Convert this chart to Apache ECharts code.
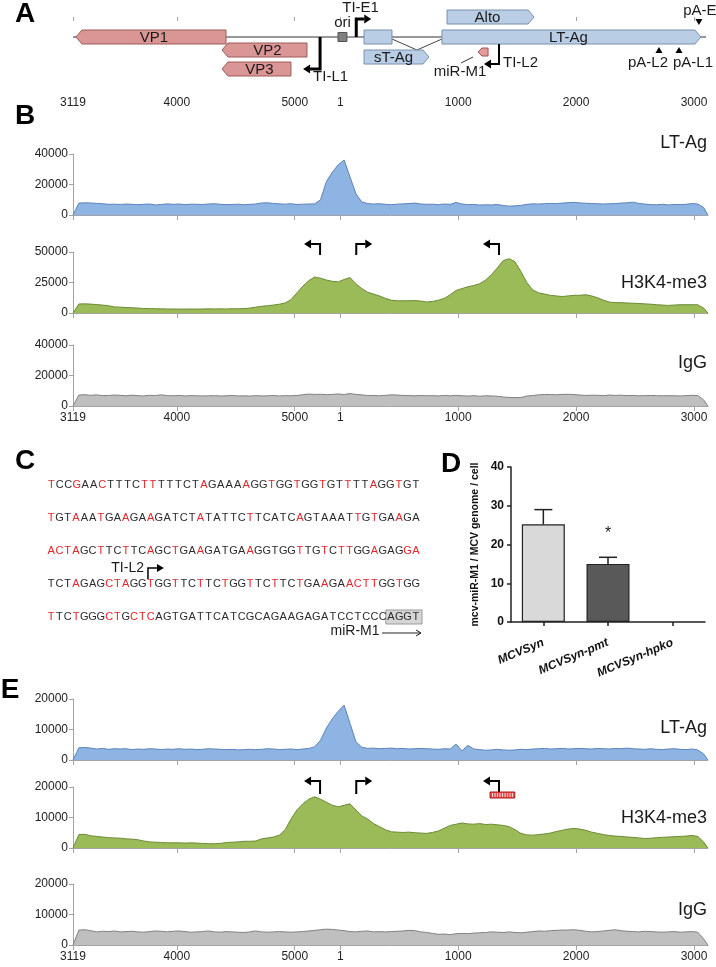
<!DOCTYPE html>
<html><head><meta charset="utf-8">
<script src="https://cdn.jsdelivr.net/npm/echarts@6.0.0/dist/echarts.min.js"></script>
<style>html,body{margin:0;padding:0;background:#fff}#c{width:716px;height:967px}</style>
</head><body><div id="c"></div>
<script>
// ================= DATA =================
const genomeLength = 5387;          // MCV genome (bp)
const axisStart = 3119;             // linearised map starts here
const tickLabels = [3119, 4000, 5000, 1, 1000, 2000, 3000];

// Panel A genome map (genomic bp)
const geneNames  = ['VP1', 'VP2', 'VP3', 'Alto', 'sT-Ag', 'LT-Ag'];
const geneStart  = [3144, 4383, 4383, 905, 201, 862];
const geneEnd    = [4417, 5104, 4968, 1643, 752, 3059];
const geneStrand = ['-', '-', '-', '+', '+', '+'];
const geneRow    = [1, 1.65, 2.6, 0, 2, 1];
const ltExon1 = [201, 438];
const oriPos = 18;
const promoterNames  = ['TI-L1', 'TI-E1', 'TI-L2'];
const promoterPos    = [5215, 135, 1346];
const promoterStrand = ['-', '+', '-'];
const polyANames = ['pA-L2', 'pA-L1', 'pA-E'];
const polyAPos   = [2703, 2873, 3042];
const mirName = 'miR-M1';
const mirRegion = [1168, 1253];
const hpkoRegion = [1270, 1480];

// ChIP-seq coverage, sampled along the linearised genome (genomic bp)
const positions = [
3119,3169,3219,3269,3319,3369,3419,3469,3519,3569,
3619,3669,3719,3769,3819,3869,3919,3969,4019,4069,
4119,4169,4219,4269,4319,4369,4419,4469,4519,4569,
4619,4669,4719,4769,4819,4869,4919,4969,5019,5069,
5119,5169,5219,5269,5319,5369,32,82,132,182,
232,282,332,382,432,482,532,582,632,682,
732,782,832,882,932,982,1032,1082,1132,1182,
1232,1282,1332,1382,1432,1482,1532,1582,1632,1682,
1732,1782,1832,1882,1932,1982,2032,2082,2132,2182,
2232,2282,2332,2382,2432,2482,2532,2582,2632,2682,
2732,2782,2832,2882,2932,2982,3032,3082,3118];

const bLTAg = [
0,7800,8000,7900,7600,7400,7000,7100,6900,7200,
7000,6800,7000,7200,6600,6900,7300,7000,7200,6800,
7100,7000,6900,7200,7400,7000,6800,6900,7100,6700,
7000,7200,7900,8000,7600,7300,7100,7400,6900,7100,
7200,7300,10000,22000,28000,33000,36000,25000,14000,8500,
7500,7200,7400,7000,6800,7100,7300,7500,7800,7200,
7000,7100,6800,7200,7000,8200,7200,6800,6900,6500,
6700,6600,6900,6200,5800,6000,6300,7000,7300,7200,
7400,7600,7500,7800,8100,8300,7900,7700,7500,7400,
7200,7400,7500,7800,8000,8400,7600,7200,6800,6700,
7000,6600,6900,6800,7000,7500,7200,5000,0];
const bH3K4 = [
0,7400,7500,7300,6900,6500,6000,5000,4800,4500,
4300,4000,3700,3600,3500,3400,3300,3300,3200,3200,
3300,3200,3300,3400,3300,3400,3300,3500,3400,3600,
4000,4800,5500,6000,6500,7200,8200,11000,16500,22000,
26500,29500,28500,27000,26000,25500,27500,29000,24000,20000,
17000,15500,14000,12000,10500,10000,10000,10000,10200,9800,
9000,9500,10500,12000,15000,18500,20000,21500,22500,24000,
27000,31500,37000,43000,44500,42000,34000,25000,19000,16500,
15500,14500,14000,13500,14000,14500,14500,15000,14000,12500,
10500,9000,8500,8500,8200,8000,7800,7500,7200,6800,
6500,6200,6500,6800,6800,6800,6700,4000,0];
const bIgG = [
0,7200,7400,7000,7300,6800,6900,7200,7000,6700,
7100,6800,6600,7000,6900,7300,6800,6700,6900,6600,
6800,6700,6600,6700,6800,6600,6700,6900,6600,6700,
6500,6800,6600,6700,6900,6600,6800,6700,6900,7400,
7800,7600,7700,7400,7600,7900,7500,8200,7600,7300,
6800,6900,6700,7000,7300,7200,6900,6800,6700,6900,
6700,6800,6600,6900,6700,7000,6700,6500,6800,6400,
6700,6600,6400,5900,5600,5500,5600,6500,6900,7300,
7600,7500,7400,7600,7700,7500,7200,6900,7100,7000,
6800,7200,6900,7100,6800,6900,6700,6800,6900,6800,
6700,6800,6700,6600,6800,7000,6900,4000,0];
const eLTAg = [
0,4000,4100,3900,3600,3800,3500,3700,3600,3700,
3400,3600,3500,3700,3600,3400,3600,3500,3700,3500,
3600,3400,3500,3700,3600,3500,3400,3500,3300,3400,
3500,3400,3500,3700,3600,3400,3500,3600,3400,3600,
3800,4300,6500,10500,13500,16000,18000,12000,6000,4200,
3800,3900,3700,3800,3900,3700,3800,3600,3700,3800,
3700,3600,3500,3700,3600,5200,3000,4800,3600,3400,
3200,3300,3500,3300,3200,3300,3500,3400,3600,3700,
3800,3600,3700,3800,3600,3700,3800,3700,3600,3800,
3700,3600,3800,3700,3900,3700,3600,3500,3700,3500,
3400,3600,3700,3500,3400,3600,3300,2000,0];
const eH3K4 = [
0,4400,4500,4000,3800,3600,3400,3300,3200,3000,
2900,2700,2300,2000,1900,1800,1700,1700,1700,1600,
1700,1600,1500,1400,1400,1500,1800,1900,2000,2200,
2200,2300,3000,3300,3600,4200,6000,9500,12500,14500,
16000,16800,16000,15000,14000,13500,14000,14500,12500,10500,
9500,8000,7000,6000,5300,5200,5100,5200,5000,4900,
4800,5100,5600,6500,7400,7800,8200,7900,7800,8000,
7700,7800,7600,7400,7000,6000,4800,4300,4200,4400,
4600,4900,5400,5800,6200,6400,6200,5800,5200,4800,
4400,4100,3900,3800,3600,3500,3300,3100,3200,3400,
3500,3600,3700,3800,3900,4100,3800,2000,0];
const eIgG = [
0,4900,5000,4700,4300,4500,4400,4600,4300,4400,
4500,4300,4200,4400,4600,4500,4300,4500,4600,4400,
4200,4300,4400,4600,4300,4200,4400,4300,4200,4100,
4300,4600,4300,4200,4300,4400,4300,4200,4300,4400,
4600,4800,5000,5200,5100,4900,4700,4400,4300,4500,
4600,4300,4400,4300,4400,4500,4600,4800,4700,4300,
4100,3800,3500,3600,3400,3700,3800,3700,3900,4000,
4100,4300,4200,4100,4300,4100,4000,4200,4400,4600,
4500,4700,4800,4900,4900,5000,4800,4500,4300,4400,
4600,4800,5000,4700,4500,4400,4300,4500,4400,4300,
4200,4300,4400,4200,4300,4400,4200,2000,0];

// Panel C sequence (red = highlighted bases)
const seqRows = [
 'TCCGAACTTTCTTTTTCTAGAAAAGGTGGTGGTGTTTTAGGTGT',
 'TGTAAATGAAGAAGATCTATATTCTTCATCAGTAAATTGTGAAGA',
 'ACTAGCTTCTTCAGCTGAAGATGAAGGTGGTTGTCTTGGAGAGGA',
 'TCTAGAGCTAGGTGGTTCTTCTGGTTCTTCTGAAGAACTTGGTGG',
 'TTCTGGGCTGCTCAGTGATTCATCGCAGAAGAGATCCTCCCAGGT'];
const seqRed = [
 [0,3,6,11,12,18,23,26,29,32,35,38,41],
 [0,3,6,9,12,18,24,30,37,39,42],
 [0,1,2,3,6,9,12,15,18,24,30,33,35,36,39,43,44],
 [3,7,8,9,12,15,18,21,24,27,30,33,36,37,38,39,42],
 [0,3,7,8,10,11,12]];
const seqTSS = {row: 3, index: 12, label: 'TI-L2'};
const seqMirBoxChars = 4;

// Panel D
const dCategories = ['MCVSyn', 'MCVSyn-pmt', 'MCVSyn-hpko'];
const dMeans = [25.2, 15.0, 0];
const dUpper = [29.0, 16.7, 0];
const dSignif = ['', '*', ''];
const dTitle = 'mcv-miR-M1 / MCV genome / cell';

// ================= HELPERS =================
const FONT = '"Liberation Sans", Arial, Helvetica, sans-serif';
function toLin(p) { return p >= axisStart ? p - axisStart : p + genomeLength - axisStart; }
function fromLin(u) { const p = Math.round(u) + axisStart; return p > genomeLength ? p - genomeLength : p; }
const tickLin = tickLabels.map(toLin);

const LEFT = 73, WIDTH = 635;
const tracks = [
 {vals: bLTAg, max: 40000, step: 20000, top: 154, fill: '#8DB4E2', line: '#5B82BA', title: 'LT-Ag',    ty: 143, labels: false},
 {vals: bH3K4, max: 50000, step: 25000, top: 252, fill: '#9BBB59', line: '#6C8A34', title: 'H3K4-me3', ty: 283, labels: false, arrows: {b: 3, t: -8}},
 {vals: bIgG,  max: 40000, step: 20000, top: 345, fill: '#BFBFBF', line: '#808080', title: 'IgG',      ty: 363, labels: true},
 {vals: eLTAg, max: 20000, step: 10000, top: 699, fill: '#8DB4E2', line: '#5B82BA', title: 'LT-Ag',    ty: 728, labels: false},
 {vals: eH3K4, max: 20000, step: 10000, top: 787, fill: '#9BBB59', line: '#6C8A34', title: 'H3K4-me3', ty: 818, labels: false, arrows: {b: 7, t: -6}, hpko: true},
 {vals: eIgG,  max: 20000, step: 10000, top: 884, fill: '#BFBFBF', line: '#808080', title: 'IgG',      ty: 910, labels: true}
];
const TRACK_H = 61;

const grids = [{left: LEFT, width: WIDTH, top: 17, height: 72}];
tracks.forEach(t => grids.push({left: LEFT, width: WIDTH, top: t.top, height: TRACK_H}));
grids.push({left: 511, width: 194, top: 467, height: 155});
const D_GRID = grids.length - 1;

const xAxes = [], yAxes = [], series = [];
const axisGray = '#a3a3a3';

// ---- Panel A axes ----
xAxes.push({gridIndex: 0, type: 'value', min: 0, max: genomeLength,
  axisLine: {show: false},
  axisTick: {show: true, customValues: tickLin, length: 4, lineStyle: {color: axisGray}},
  axisLabel: {show: true, customValues: tickLin, formatter: v => String(fromLin(v)), fontSize: 12, color: '#222', fontFamily: FONT, margin: 8},
  splitLine: {show: false}});
yAxes.push({gridIndex: 0, type: 'value', min: 0, max: 3.6, inverse: true, show: false});

// ---- Panel A features ----
const featureList = [{kind: 'backbone'}, {kind: 'exon1'}];
geneNames.forEach((n, i) => featureList.push({kind: 'gene', i}));
featureList.push({kind: 'ori'});
promoterNames.forEach((n, i) => featureList.push({kind: 'promoter', i}));
polyANames.forEach((n, i) => featureList.push({kind: 'polyA', i}));
featureList.push({kind: 'mir'});

const promoterLayoutA = {
  'TI-L1': {from: 1, to: 2.6, w: 3, len: 10, dx: -7, row: 3},
  'TI-E1': {from: 1, to: 0.1, w: 3, len: 8, dx: -14, row: -0.45},
  'TI-L2': {from: 1.35, to: 2.35, w: 2, len: 8, dx: 4, row: 2.3}
};
const polyALayoutA = {
  'pA-L2': {down: false, dx: -11, row: 2.3},
  'pA-L1': {down: false, dx: 14, row: 2.3},
  'pA-E':  {down: true, dx: 1, row: -0.3}
};

function txt(x, y, text, align, size, color, extra) {
  return Object.assign({type: 'text', x, y, style: {text, fill: color || '#1a1a1a', fontSize: size || 15, fontFamily: FONT, align: align || 'center', verticalAlign: 'middle'}}, extra || {});
}

function renderMap(params, api) {
  const f = featureList[api.value(2)];
  const P = (p, row) => api.coord([toLin(p), row]);
  const RY = row => api.coord([0, row])[1];
  const y1 = RY(1);
  if (f.kind === 'backbone') {
    const a = api.coord([0, 1]), b = api.coord([genomeLength, 1]);
    return {type: 'line', shape: {x1: a[0], y1: a[1], x2: b[0] - 2, y2: b[1]}, style: {stroke: '#333', lineWidth: 1}};
  }
  if (f.kind === 'exon1') {
    const a = P(ltExon1[0], 1), b = P(ltExon1[1], 1), c = P(geneStart[geneNames.indexOf('LT-Ag')], 1);
    return {type: 'group', children: [
      {type: 'polyline', shape: {points: [[b[0], y1 + 2], [(b[0] + c[0]) / 2, y1 + 13], [c[0], y1 + 2]]}, style: {stroke: '#444', lineWidth: 1, fill: null}},
      {type: 'rect', shape: {x: a[0], y: y1 - 7, width: b[0] - a[0], height: 14}, style: {fill: '#B9CDE5', stroke: '#7A90AD', lineWidth: 1}}
    ]};
  }
  if (f.kind === 'gene') {
    const i = f.i, a = P(geneStart[i], geneRow[i]), b = P(geneEnd[i], geneRow[i]);
    const y = a[1], h = 7, hd = 6;
    let pts, cx;
    if (geneStrand[i] === '-') { pts = [[a[0], y], [a[0] + hd, y - h], [b[0], y - h], [b[0], y + h], [a[0] + hd, y + h]]; cx = (a[0] + hd + b[0]) / 2; }
    else { pts = [[a[0], y - h], [b[0] - hd, y - h], [b[0], y], [b[0] - hd, y + h], [a[0], y + h]]; cx = (a[0] + b[0] - hd) / 2; }
    const pink = geneNames[i].indexOf('VP') === 0;
    return {type: 'group', children: [
      {type: 'polygon', shape: {points: pts}, style: {fill: pink ? '#D99694' : '#B9CDE5', stroke: pink ? '#9C5B58' : '#7A90AD', lineWidth: 1}},
      txt(cx, y + 1, geneNames[i])
    ]};
  }
  if (f.kind === 'ori') {
    const x = P(oriPos, 1)[0];
    return {type: 'group', children: [
      {type: 'rect', shape: {x: x - 4.5, y: y1 - 4.5, width: 9, height: 9}, style: {fill: '#7f7f7f', stroke: '#555', lineWidth: 1}},
      txt(x, RY(0.3), 'ori')
    ]};
  }
  if (f.kind === 'promoter') {
    const i = f.i, L = promoterLayoutA[promoterNames[i]];
    const x = P(promoterPos[i], 1)[0], ya = RY(L.from), yb = RY(L.to);
    const d = promoterStrand[i] === '+' ? 1 : -1, xe = x + d * L.len;
    return {type: 'group', children: [
      {type: 'polyline', shape: {points: [[x, ya], [x, yb], [xe, yb]]}, style: {stroke: '#000', lineWidth: L.w, fill: null, lineJoin: 'miter'}},
      {type: 'polygon', shape: {points: [[xe, yb - 4.5], [xe + d * 7, yb], [xe, yb + 4.5]]}, style: {fill: '#000'}},
      txt(x + L.dx, RY(L.row), promoterNames[i], 'left')
    ]};
  }
  if (f.kind === 'polyA') {
    const i = f.i, L = polyALayoutA[polyANames[i]];
    const x = P(polyAPos[i], 1)[0];
    const pts = L.down ? [[x - 3.5, y1 - 18], [x + 3.5, y1 - 18], [x, y1 - 12]] : [[x, y1 + 10], [x + 3.5, y1 + 16], [x - 3.5, y1 + 16]];
    return {type: 'group', children: [
      {type: 'polygon', shape: {points: pts}, style: {fill: '#000'}},
      txt(x + L.dx, RY(L.row), polyANames[i])
    ]};
  }
  if (f.kind === 'mir') {
    const a = P(mirRegion[0], 1.75), b = P(mirRegion[1], 1.75), y = a[1];
    return {type: 'group', children: [
      {type: 'polygon', shape: {points: [[a[0], y], [a[0] + 4, y - 4], [b[0], y - 4], [b[0], y + 4], [a[0] + 4, y + 4]]}, style: {fill: '#E39C9A', stroke: '#A0524F', lineWidth: 1}},
      {type: 'line', shape: {x1: a[0] - 5, y1: y + 5, x2: a[0] - 17, y2: y + 11}, style: {stroke: '#333', lineWidth: 1}},
      txt(a[0] - 18, RY(2.75), mirName)
    ]};
  }
  return null;
}
series.push({type: 'custom', coordinateSystem: 'cartesian2d', xAxisIndex: 0, yAxisIndex: 0, clip: false, silent: true,
  encode: {x: 0, y: 1}, data: featureList.map((f, k) => [0, 1, k]), renderItem: renderMap});

// ---- Tracks (B and E) ----
tracks.forEach((t, k) => {
  const g = k + 1;
  xAxes.push({gridIndex: g, type: 'value', min: 0, max: genomeLength,
    axisLine: {show: true, lineStyle: {color: axisGray, width: 1}},
    axisTick: {show: true, customValues: tickLin, length: 5, lineStyle: {color: axisGray}},
    axisLabel: {show: t.labels, customValues: tickLin, formatter: v => String(fromLin(v)), fontSize: 12, color: '#222', fontFamily: FONT, margin: 6},
    splitLine: {show: false}});
  yAxes.push({gridIndex: g, type: 'value', min: 0, max: t.max, interval: t.step,
    axisLine: {show: true, lineStyle: {color: axisGray, width: 1}},
    axisTick: {show: true, length: 4, lineStyle: {color: axisGray}},
    axisLabel: {fontSize: 12, color: '#222', fontFamily: FONT, margin: 5, formatter: v => String(v)},
    splitLine: {show: false}});
  series.push({type: 'line', xAxisIndex: g, yAxisIndex: g, silent: true, symbol: 'none', showSymbol: false,
    data: positions.map((p, i) => [toLin(p), t.vals[i]]),
    lineStyle: {color: t.line, width: 1}, areaStyle: {color: t.fill, opacity: 1}});
  if (t.arrows) {
    const A = t.arrows;
    series.push({type: 'custom', coordinateSystem: 'cartesian2d', xAxisIndex: g, yAxisIndex: g, clip: false, silent: true,
      encode: {x: 0, y: 1}, data: promoterPos.map((p, i) => [toLin(p), t.max, i]),
      renderItem: (params, api) => {
        const i = api.value(2), top = api.coord([api.value(0), api.value(1)]);
        const x = top[0], yb = top[1] + A.b, yt = top[1] + A.t;
        const d = promoterStrand[i] === '+' ? 1 : -1, xe = x + d * 9;
        return {type: 'group', children: [
          {type: 'polyline', shape: {points: [[x, yb], [x, yt], [xe, yt]]}, style: {stroke: '#000', lineWidth: 2, fill: null, lineJoin: 'miter'}},
          {type: 'polygon', shape: {points: [[xe, yt - 4.5], [xe + d * 7, yt], [xe, yt + 4.5]]}, style: {fill: '#000'}}
        ]};
      }});
  }
  if (t.hpko) {
    series.push({type: 'custom', coordinateSystem: 'cartesian2d', xAxisIndex: g, yAxisIndex: g, clip: false, silent: true,
      encode: {x: [0, 1], y: 2}, data: [[toLin(hpkoRegion[0]), toLin(hpkoRegion[1]), t.max]],
      renderItem: (params, api) => {
        const a = api.coord([api.value(0), api.value(2)]), b = api.coord([api.value(1), api.value(2)]);
        const y = a[1] + 5, h = 6, kids = [{type: 'rect', shape: {x: a[0], y, width: b[0] - a[0], height: h}, style: {fill: '#F04848', stroke: '#B01818', lineWidth: 1}}];
        for (let x = a[0] + 2.5; x < b[0] - 1; x += 2.5) kids.push({type: 'line', shape: {x1: x, y1: y + 1, x2: x, y2: y + h - 1}, style: {stroke: '#fff', lineWidth: 0.8}});
        return {type: 'group', children: kids};
      }});
  }
});

// ---- Panel D ----
xAxes.push({gridIndex: D_GRID, type: 'category', data: dCategories,
  axisLine: {show: true, lineStyle: {color: '#222', width: 1.5}},
  axisTick: {show: true, alignWithLabel: true, length: 4, lineStyle: {color: '#222', width: 1.5}},
  axisLabel: {interval: 0, rotate: 23, fontSize: 12, fontWeight: 'bold', fontStyle: 'italic', color: '#111', fontFamily: FONT, margin: 20}});
yAxes.push({gridIndex: D_GRID, type: 'value', min: 0, max: 40, interval: 10,
  name: dTitle, nameLocation: 'middle', nameGap: 30,
  nameTextStyle: {fontSize: 10.5, fontWeight: 'bold', color: '#111', fontFamily: FONT},
  axisLine: {show: true, lineStyle: {color: '#222', width: 1.5}},
  axisTick: {show: true, length: 4, lineStyle: {color: '#222', width: 1.5}},
  axisLabel: {fontSize: 12, fontWeight: 'bold', color: '#111', fontFamily: FONT, margin: 7},
  splitLine: {show: false}});
const barColors = ['#D9D9D9', '#595959', '#A6A6A6'];
series.push({type: 'bar', xAxisIndex: D_GRID, yAxisIndex: D_GRID, barWidth: 43, silent: true,
  data: dMeans.map((v, i) => ({value: v, itemStyle: {color: barColors[i], borderColor: '#222', borderWidth: v > 0 ? 1.2 : 0}}))});
series.push({type: 'custom', coordinateSystem: 'cartesian2d', xAxisIndex: D_GRID, yAxisIndex: D_GRID, clip: false, silent: true,
  encode: {x: 0, y: [1, 2]},
  data: dCategories.map((c, i) => [i, dMeans[i], dUpper[i]]).filter(d => d[2] > d[1]),
  renderItem: (params, api) => {
    const i = api.value(0), m = api.coord([i, api.value(1)]), u = api.coord([i, api.value(2)]);
    const kids = [
      {type: 'line', shape: {x1: m[0], y1: m[1], x2: u[0], y2: u[1]}, style: {stroke: '#222', lineWidth: 1.5}},
      {type: 'line', shape: {x1: u[0] - 9, y1: u[1], x2: u[0] + 9, y2: u[1]}, style: {stroke: '#222', lineWidth: 1.5}}
    ];
    if (dSignif[i]) kids.push(txt(u[0], u[1] - 24, dSignif[i], 'center', 16, '#222'));
    return {type: 'group', children: kids};
  }});

// ---- Graphics: panel letters, track titles, sequence ----
const graphic = [];
const letter = (x, y, s) => graphic.push({type: 'text', x, y, silent: true, style: {text: s, fontSize: 28, fontWeight: 'bold', fontFamily: FONT, fill: '#000', align: 'center', verticalAlign: 'middle'}});
letter(25, 14, 'A'); letter(25, 116, 'B'); letter(25, 461, 'C'); letter(451, 464, 'D'); letter(10, 690, 'E');
tracks.forEach(t => graphic.push({type: 'text', x: 707, y: t.ty, silent: true, style: {text: t.title, fontSize: 18, fontFamily: FONT, fill: '#1a1a1a', align: 'right', verticalAlign: 'middle'}}));

const seqX0 = 47, seqX1 = 420, seqY = [485, 518, 551, 584, 617];
seqRows.forEach((row, r) => {
  const pitch = (seqX1 - seqX0) / row.length;
  const red = new Set(seqRed[r]);
  if (r === seqRows.length - 1) {
    const bx = seqX0 + (row.length - seqMirBoxChars) * pitch - 1;
    graphic.push({type: 'rect', silent: true, shape: {x: bx, y: seqY[r] - 7, width: seqX1 - bx + 2, height: 14}, style: {fill: '#D6D6D6', stroke: '#9a9a9a', lineWidth: 1}});
  }
  for (let i = 0; i < row.length; i++) {
    graphic.push({type: 'text', silent: true, x: seqX0 + (i + 0.5) * pitch, y: seqY[r],
      style: {text: row[i], fontSize: 11, fontFamily: FONT, fill: red.has(i) ? '#E3262B' : '#2b2b2b', align: 'center', verticalAlign: 'middle'}});
  }
});
// TI-L2 start site in the sequence
(function () {
  const row = seqRows[seqTSS.row], pitch = (seqX1 - seqX0) / row.length;
  const x = seqX0 + seqTSS.index * pitch + 1.5, yb = seqY[seqTSS.row] - 5, yt = seqY[seqTSS.row] - 16;
  graphic.push({type: 'polyline', silent: true, shape: {points: [[x, yb], [x, yt], [x + 9, yt]]}, style: {stroke: '#000', lineWidth: 1.5, fill: null}});
  graphic.push({type: 'polygon', silent: true, shape: {points: [[x + 9, yt - 4], [x + 16, yt], [x + 9, yt + 4]]}, style: {fill: '#000'}});
  graphic.push({type: 'text', silent: true, x: x - 4, y: yt, style: {text: seqTSS.label, fontSize: 14, fontFamily: FONT, fill: '#1a1a1a', align: 'right', verticalAlign: 'middle'}});
  const ym = seqY[4] + 14;
  graphic.push({type: 'text', silent: true, x: 355, y: ym, style: {text: mirName, fontSize: 14, fontFamily: FONT, fill: '#1a1a1a', align: 'center', verticalAlign: 'middle'}});
  graphic.push({type: 'line', silent: true, shape: {x1: 382, y1: ym + 2, x2: 421, y2: ym + 2}, style: {stroke: '#222', lineWidth: 1}});
  graphic.push({type: 'polyline', silent: true, shape: {points: [[416, ym - 1], [421, ym + 2], [416, ym + 5]]}, style: {stroke: '#222', lineWidth: 1, fill: null}});
})();

const chart = echarts.init(document.getElementById('c'), null, {renderer: 'canvas', width: 716, height: 967});
chart.setOption({
  animation: false,
  backgroundColor: '#ffffff',
  textStyle: {fontFamily: FONT},
  grid: grids,
  xAxis: xAxes,
  yAxis: yAxes,
  series: series,
  graphic: graphic
});
</script>
</body></html>
